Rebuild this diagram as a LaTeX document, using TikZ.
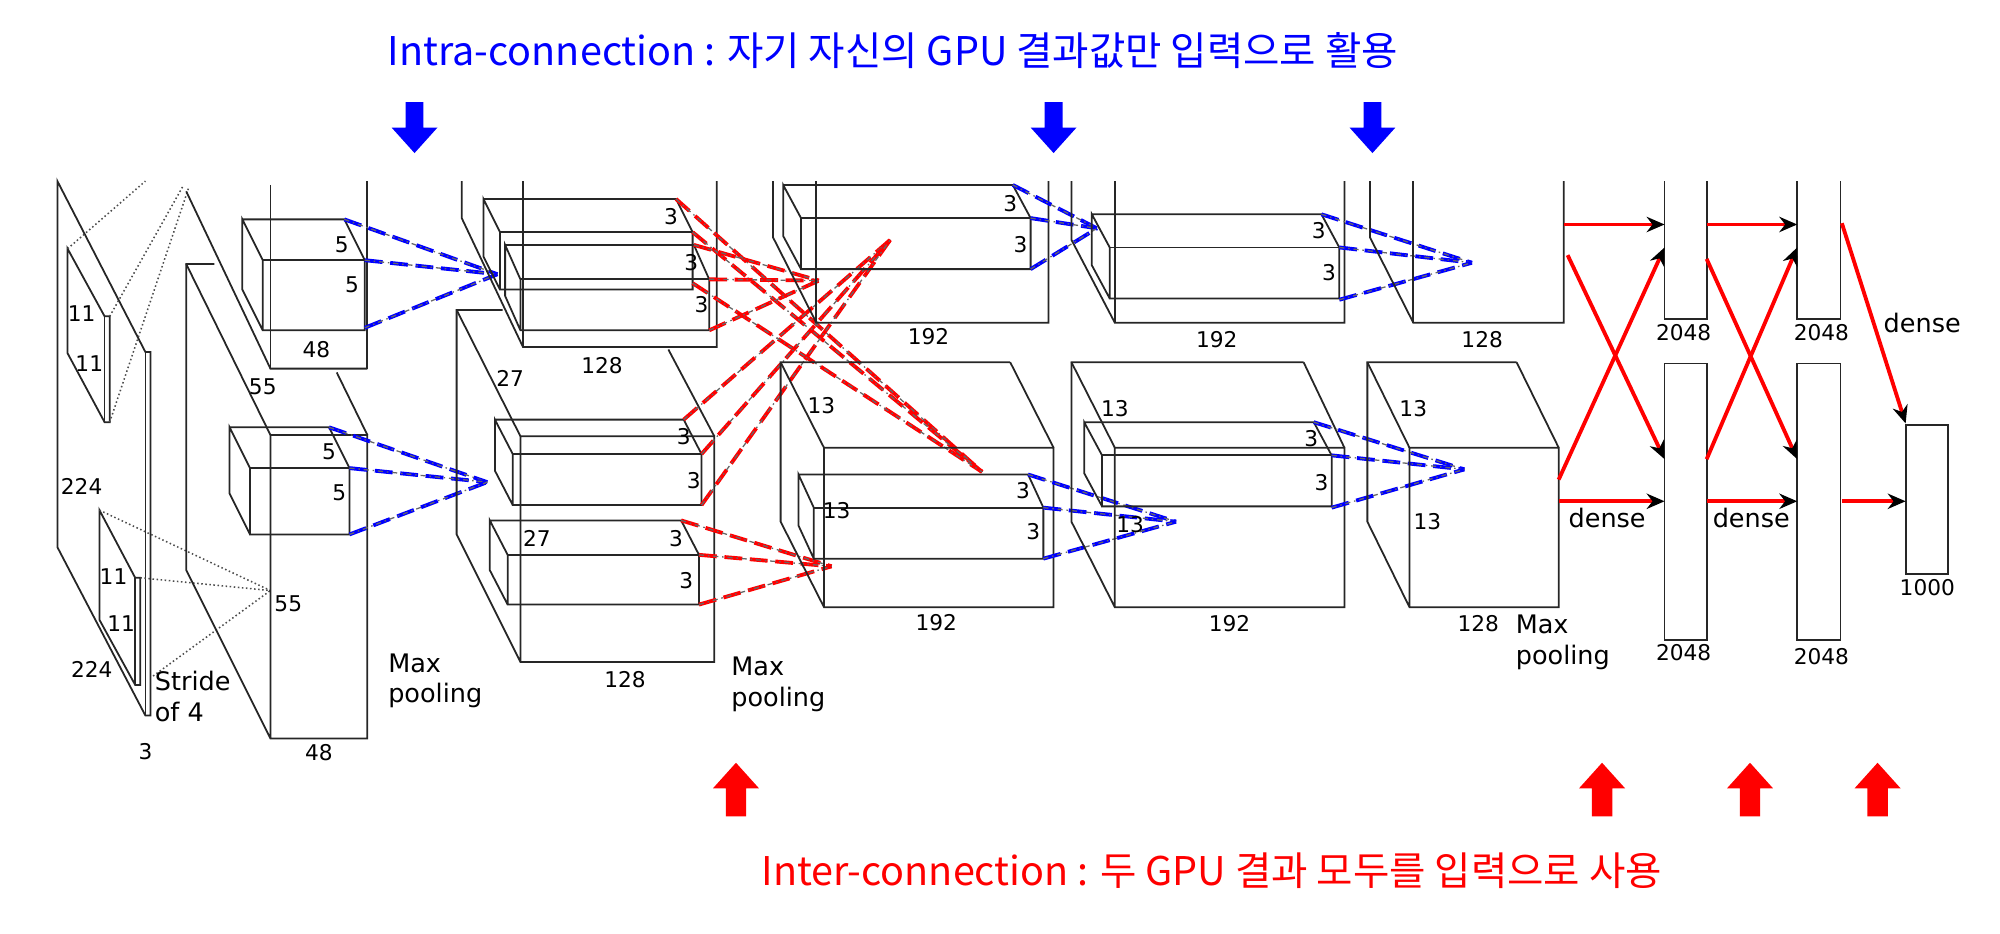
\documentclass[tikz,border=0pt]{standalone}
\usepackage{fontspec}
\setmainfont{DejaVu Sans}
\newfontfamily\kr{Noto Sans CJK KR}
\usetikzlibrary{arrows.meta}

\tikzset{
  layer/.style={draw=black!85, line width=0.7pt},
  num/.style={inner sep=0pt, font=\fontsize{8.5}{10}\selectfont},
  note/.style={inner sep=0pt, align=left, font=\fontsize{10}{12}\selectfont},
  title/.style={font=\kr\fontsize{15.5}{18}\selectfont},
  dots/.style={black!70, densely dotted, line width=0.6pt},
  intra/.style={blue, dash pattern=on 7pt off 3pt, line width=1.5pt},
  inter/.style={red, dash pattern=on 7pt off 3pt, line width=1.5pt},
  over/.style={black!60, dash pattern=on 2pt off 1.5pt on 0.6pt off 1.5pt, line width=0.5pt},
  dense/.style={red, line width=1.5pt, -{Stealth[black, length=7pt, width=6pt]}},
}

% kernel box: back top-left (x,y), width, height, depth offset dx, dy
\newcommand\kbox[6]{%
  \draw[layer] (#1,#2) -- ++(#3,0) -- ++(#5,#6) -- ++(0,#4) -- ++(-#3,0) -- ++(0,-#4) -- ++(-#5,-#6) -- ++(0,#4) -- ++(#5,#6);
  \draw[layer] (#1+#5,#2+#6) -- ++(#3,0);
}
% fan of connection lines to one point
\newcommand\fan[3]{%
  \foreach \p in {#2} {
    \draw[#1] \p -- (#3);
    \draw[over] \p -- (#3);
  }
}
\newcommand\intramark[2]{\fill[blue] (#1-7,#2) -- (#1+7,#2) -- (#1+7,#2+20) -- (#1+18,#2+20) -- (#1,#2+40) -- (#1-18,#2+20) -- (#1-7,#2+20) -- cycle;}
\newcommand\intermark[2]{\fill[red] (#1-8,#2+42) -- (#1+8,#2+42) -- (#1+8,#2+20) -- (#1+18,#2+20) -- (#1,#2) -- (#1-18,#2+20) -- (#1-8,#2+20) -- cycle;}

\begin{document}
\begin{tikzpicture}[x=0.5pt, y=-0.5pt]
  \useasboundingbox (0,0) rectangle (1568,732);

  % titles
  \node[blue, title] (intra) at (700,40) {Intra-connection : 자기 자신의 GPU 결과값만 입력으로 활용};
  \node[red, title] (inter) at (950,683) {Inter-connection : 두 GPU 결과 모두를 입력으로 사용};
  \intramark{325}{80}
  \intramark{826}{80}
  \intramark{1076}{80}
  \intermark{577}{598}
  \intermark{1256}{598}
  \intermark{1372}{598}
  \intermark{1472}{598}

  % input 224x224x3
  \draw[layer] (45,142) -- (114,276) -- (118,276) -- (118,561) -- (114,561) -- (45,429) -- cycle;
  \draw[layer] (114,276) -- (114,561);
  \draw[layer] (53,195) -- (82,248) -- (86,248) -- (86,331) -- (82,331) -- (53,277) -- cycle;
  \draw[layer] (82,248) -- (82,331);
  \draw[layer] (78,400) -- (106,453) -- (110,453) -- (110,537) -- (106,537) -- (78,486) -- cycle;
  \draw[layer] (106,453) -- (106,537);
  \draw[dots] (53,195) -- (114,142);
  \draw[dots] (86,248) -- (144,145);
  \draw[dots] (86,331) -- (148,147);
  \coordinate (c1b) at (212,463);
  \draw[dots] (78,400) -- (c1b);
  \draw[dots] (110,453) -- (c1b);
  \draw[dots] (120,530) -- (c1b);
  \node[num] (in11a) at (64,246) {11};
  \node[num] (in11b) at (70,285) {11};
  \node[num] (in11c) at (89,452) {11};
  \node[num] (in11d) at (95,489) {11};
  \node[num] (in224a) at (64,381) {224};
  \node[num] (in224b) at (72,525) {224};
  \node[num] (in3) at (114,589) {3};
  \node[note, anchor=north west] (stride) at (121,526) {Stride\\of 4};

  % conv1 55x55x48
  \draw[layer] (146,150) -- (212,289) -- (288,289);
  \draw[layer] (212,145) -- (212,289);
  \draw[layer] (288,142) -- (288,289);
  \draw[layer] (168,207) -- (146,207) -- (146,447) -- (212,579) -- (288,579) -- (288,341) -- (212,341) -- (212,579);
  \draw[layer] (146,207) -- (212,341);
  \draw[layer] (264,292) -- (288,341);
  \kbox{190}{172}{80}{55}{16}{32}
  \kbox{180}{335}{78}{52}{16}{32}
  \node[num] (k1a) at (268,192) {5};
  \node[num] (k1b) at (276,223) {5};
  \node[num] (k1c) at (258,354) {5};
  \node[num] (k1d) at (266,386) {5};
  \node[num] (c1w) at (248,274) {48};
  \node[num] (c1h) at (206,303) {55};
  \node[num] (c1s) at (226,473) {55};
  \node[num] (c1d) at (250,590) {48};
  \node[note, anchor=north west] (pool1) at (304,512) {Max\\pooling};
  \coordinate (c2t) at (390,215);
  \coordinate (c2b) at (382,378);
  \fan{intra}{(270,172),(286,204),(286,257)}{c2t}
  \fan{intra}{(258,335),(274,367),(274,419)}{c2b}

  % conv2 27x27x128
  \draw[layer] (362,142) -- (362,171) -- (410,272) -- (562,272) -- (562,142);
  \draw[layer] (410,142) -- (410,272);
  \draw[layer] (394,243) -- (358,243) -- (358,419) -- (408,519) -- (560,519) -- (560,342) -- (408,342) -- (408,519);
  \draw[layer] (358,243) -- (408,342);
  \draw[layer] (524,274) -- (560,342);
  \kbox{379}{156}{151}{45}{13}{26}
  \kbox{396}{192}{148}{40}{12}{27}
  \kbox{388}{329}{148}{40}{14}{27}
  \kbox{384}{408}{150}{39}{14}{27}
  \node[num] (k2a) at (526,170) {3};
  \node[num] (k2b) at (542,206) {3};
  \node[num] (k2c) at (550,239) {3};
  \node[num] (k2d) at (536,342) {3};
  \node[num] (k2e) at (544,377) {3};
  \node[num] (k2f) at (530,422) {3};
  \node[num] (k2g) at (538,455) {3};
  \node[num] (c2w) at (472,287) {128};
  \node[num] (c2h) at (400,297) {27};
  \node[num] (c2s) at (421,422) {27};
  \node[num] (c2d) at (490,533) {128};
  \node[note, anchor=north west] (pool2) at (573,515) {Max\\pooling};
  \coordinate (c3ta) at (642,220);
  \coordinate (c3tb) at (698,188);
  \coordinate (c3ba) at (770,370);
  \coordinate (c3bb) at (652,444);
  \fan{inter}{(530,156),(543,182),(543,222)}{c3ba}
  \fan{inter}{(544,192),(556,219),(556,259)}{c3ta}
  \fan{inter}{(536,329),(550,356),(550,396)}{c3tb}
  \fan{inter}{(534,408),(548,435),(548,474)}{c3bb}

  % conv3 13x13x192
  \draw[layer] (606,142) -- (606,186) -- (640,253) -- (822,253) -- (822,142);
  \draw[layer] (640,142) -- (640,253);
  \draw[layer] (792,284) -- (612,284) -- (612,409) -- (646,476) -- (826,476) -- (826,351) -- (646,351) -- (646,476);
  \draw[layer] (612,284) -- (646,351);
  \draw[layer] (792,284) -- (826,351);
  \kbox{614}{145}{180}{40}{14}{26}
  \kbox{626}{372}{180}{40}{12}{26}
  \node[num] (k3a) at (792,160) {3};
  \node[num] (k3b) at (800,192) {3};
  \node[num] (k3c) at (802,385) {3};
  \node[num] (k3d) at (810,417) {3};
  \node[num] (c3w) at (728,264) {192};
  \node[num] (c3h) at (644,318) {13};
  \node[num] (c3s) at (656,400) {13};
  \node[num] (c3d) at (734,488) {192};
  \coordinate (c4t) at (860,179);
  \coordinate (c4b) at (922,409);
  \fan{intra}{(794,145),(808,171),(808,211)}{c4t}
  \fan{intra}{(806,372),(818,398),(818,438)}{c4b}

  % conv4 13x13x192
  \draw[layer] (840,142) -- (840,188) -- (874,253) -- (1054,253) -- (1054,142);
  \draw[layer] (874,142) -- (874,253);
  \draw[layer] (1022,284) -- (840,284) -- (840,409) -- (874,476) -- (1054,476) -- (1054,351) -- (874,351) -- (874,476);
  \draw[layer] (840,284) -- (874,351);
  \draw[layer] (1022,284) -- (1054,351);
  \kbox{856}{168}{180}{40}{14}{26}
  \kbox{850}{331}{180}{40}{14}{26}
  \node[num] (k4a) at (1034,181) {3};
  \node[num] (k4b) at (1042,214) {3};
  \node[num] (k4c) at (1028,344) {3};
  \node[num] (k4d) at (1036,378) {3};
  \node[num] (c4w) at (954,266) {192};
  \node[num] (c4h) at (874,320) {13};
  \node[num] (c4s) at (886,411) {13};
  \node[num] (c4d) at (964,489) {192};
  \coordinate (c5t) at (1154,206);
  \coordinate (c5b) at (1148,368);
  \fan{intra}{(1036,168),(1050,194),(1050,235)}{c5t}
  \fan{intra}{(1030,331),(1044,357),(1044,398)}{c5b}

  % conv5 13x13x128
  \draw[layer] (1074,142) -- (1074,186) -- (1108,253) -- (1226,253) -- (1226,142);
  \draw[layer] (1108,142) -- (1108,253);
  \draw[layer] (1189,284) -- (1072,284) -- (1072,409) -- (1105,476) -- (1222,476) -- (1222,351) -- (1105,351) -- (1105,476);
  \draw[layer] (1072,284) -- (1105,351);
  \draw[layer] (1189,284) -- (1222,351);
  \node[num] (c5w) at (1162,266) {128};
  \node[num] (c5h) at (1108,320) {13};
  \node[num] (c5s) at (1119,409) {13};
  \node[num] (c5d) at (1159,489) {128};
  \node[note, anchor=north west] (pool5) at (1188,482) {Max\\pooling};

  % dense layers
  \draw[layer] (1305,142) -- (1305,250) -- (1338,250) -- (1338,142);
  \draw[layer] (1305,285) rectangle (1338,502);
  \draw[layer] (1409,142) -- (1409,250) -- (1443,250) -- (1443,142);
  \draw[layer] (1409,285) rectangle (1443,502);
  \draw[layer] (1494,333) rectangle (1527,450);
  \node[num] (f6a) at (1320,261) {2048};
  \node[num] (f6b) at (1320,512) {2048};
  \node[num] (f7a) at (1428,261) {2048};
  \node[num] (f7b) at (1428,515) {2048};
  \node[num] (f8) at (1511,461) {1000};
  \node[note] (d6) at (1260,406) {dense};
  \node[note] (d7) at (1373,406) {dense};
  \node[note] (d8) at (1507,253) {dense};
  \coordinate (f6t) at (1305,176);
  \coordinate (f6tx) at (1305,194);
  \coordinate (f6bx) at (1305,360);
  \coordinate (f6b) at (1305,393);
  \coordinate (f7t) at (1409,176);
  \coordinate (f7tx) at (1409,194);
  \coordinate (f7bx) at (1409,360);
  \coordinate (f7b) at (1409,393);
  \coordinate (f8t) at (1494,332);
  \coordinate (f8b) at (1494,393);
  \draw[dense] (1226,176) -- (f6t);
  \draw[dense] (1229,200) -- (f6bx);
  \draw[dense] (1222,376) -- (f6tx);
  \draw[dense] (1222,393) -- (f6b);
  \draw[dense] (1338,176) -- (f7t);
  \draw[dense] (1338,203) -- (f7bx);
  \draw[dense] (1338,360) -- (f7tx);
  \draw[dense] (1338,393) -- (f7b);
  \draw[dense] (1444,175) -- (f8t);
  \draw[dense] (1444,393) -- (f8b);
\end{tikzpicture}
\end{document}
